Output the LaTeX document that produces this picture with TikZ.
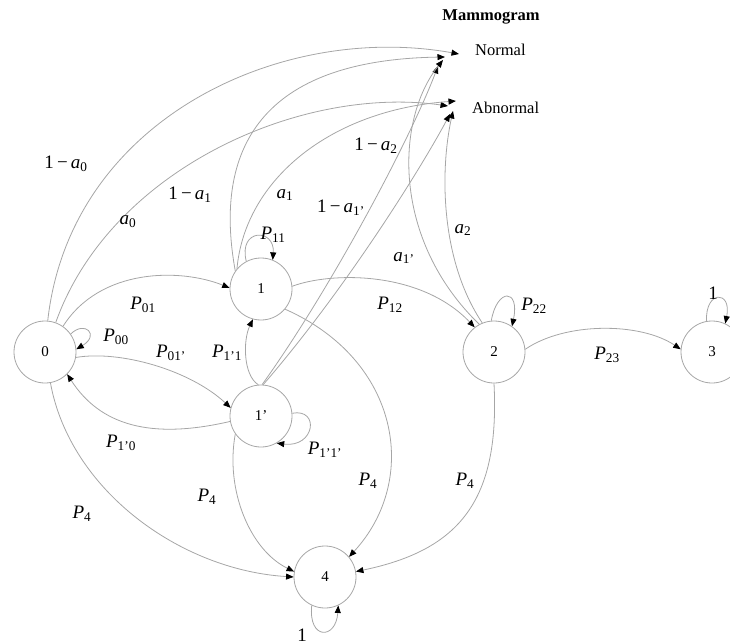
\documentclass[tikz,border=0pt]{standalone}
\usepackage{fontspec}
\setmainfont{Liberation Serif}
\usetikzlibrary{arrows.meta}
\newcommand\PP[1]{\textit{P}\textsubscript{#1}}
\newcommand\Aval[1]{\textit{a}\textsubscript{#1}}
\newcommand\OneMinus[1]{1\,−\,\textit{a}\textsubscript{#1}}
\begin{document}
\begin{tikzpicture}[x=1pt,y=-1pt,
  st/.style={circle,draw=gray!70,line width=0.8pt,minimum size=62pt,inner sep=0pt,font=\fontsize{15}{15}\selectfont},
  conn/.style={draw=gray!70,line width=0.8pt,-{Triangle[length=7.5pt,width=6pt,color=black]}},
  lbl/.style={font=\fontsize{19}{19}\selectfont,inner sep=0pt},
  txt/.style={font=\fontsize{16.5}{17}\selectfont,inner sep=0pt}]
\useasboundingbox (0,0) rectangle (730,644);
% states
\node[st] (n0) at (45,352) {0};
\node[st] (n1) at (261,289) {1};
\node[st] (n1p) at (261,416) {1'};
\node[st] (n2) at (494,352) {2};
\node[st] (n3) at (712,352) {3};
\node[st] (n4) at (325,577) {4};
% mammogram outcomes
\node[txt,font=\bfseries\fontsize{16.5}{17}\selectfont] (mam) at (491,17) {Mammogram};
\node[txt,anchor=west] (nor) at (475,50) {Normal};
\node[txt,anchor=west] (abn) at (472,108) {Abnormal};
\coordinate (N0) at (459,54);
\coordinate (N1) at (445,57);
\coordinate (N2) at (438,66);
\coordinate (N3) at (443,60);
\coordinate (A0) at (448,106);
\coordinate (A1) at (456,101);
\coordinate (A2) at (450,114);
\coordinate (A3) at (453,111);
% to mammogram
\draw[conn] (n0.85) .. controls (70,120) and (280,22) .. (N0);
\draw[conn] (n0.70) .. controls (110,170) and (300,85) .. (A0);
\draw[conn] (n1.145) .. controls (215,160) and (250,60) .. (N1);
\draw[conn] (n1.140) .. controls (245,180) and (330,110) .. (A1);
\draw[conn] (n1p.88) .. controls (330,290) and (410,140) .. (N2);
\draw[conn] (n1p.86) .. controls (345,290) and (420,170) .. (A2);
\draw[conn] (n2.118) .. controls (392,240) and (395,120) .. (N3);
\draw[conn] (n2.112) .. controls (440,260) and (440,170) .. (A3);
% transitions
\draw[conn] (n0.55) .. controls (100,268) and (180,268) .. (n1.178);
\draw[conn] (n0.35) .. controls (85,320) and (100,335) .. (n0.5);
\draw[conn] (n0.-10) .. controls (120,350) and (190,370) .. (n1p.165);
\draw[conn] (n1p.190) .. controls (150,440) and (100,425) .. (n0.-45);
\draw[conn] (n1p.95) .. controls (243,375) and (243,340) .. (n1.255);
\draw[conn] (n1.118) .. controls (238,228) and (275,228) .. (n1.68);
\draw[conn] (n1p.5) .. controls (320,408) and (315,448) .. (n1p.-60);
\draw[conn] (n1.5) .. controls (330,272) and (420,270) .. (n2.128);
\draw[conn] (n2.95) .. controls (497,288) and (520,288) .. (n2.55);
\draw[conn] (n2.5) .. controls (565,322) and (640,322) .. (n3.175);
\draw[conn] (n3.100) .. controls (705,290) and (732,290) .. (n3.65);
\draw[conn] (n0.-80) .. controls (70,490) and (180,570) .. (n4.180);
\draw[conn] (n1p.-145) .. controls (225,490) and (250,550) .. (n4.170);
\draw[conn] (n1.-40) .. controls (400,360) and (420,480) .. (n4.40);
\draw[conn] (n2.-90) .. controls (500,500) and (460,550) .. (n4.10);
\draw[conn] (n4.-115) .. controls (308,640) and (336,640) .. (n4.-65);
% labels
\node[lbl] (l1) at (66,164) {\OneMinus{0}};
\node[lbl] (l2) at (128,222) {\Aval{0}};
\node[lbl] (l3) at (190,195) {\OneMinus{1}};
\node[lbl] (l4) at (285,195) {\Aval{1}};
\node[lbl] (l5) at (341,208) {\OneMinus{1'}};
\node[lbl] (l6) at (376,146) {\OneMinus{2}};
\node[lbl] (l7) at (463,230) {\Aval{2}};
\node[lbl] (l8) at (404,258) {\Aval{1'}};
\node[lbl] (l9) at (273,235) {\PP{11}};
\node[lbl] (l10) at (143,305) {\PP{01}};
\node[lbl] (l11) at (116,337) {\PP{00}};
\node[lbl] (l12) at (171,353) {\PP{01'}};
\node[lbl] (l13) at (227,353) {\PP{1'1}};
\node[lbl] (l14) at (325,450) {\PP{1'1'}};
\node[lbl] (l15) at (390,305) {\PP{12}};
\node[lbl] (l16) at (534,306) {\PP{22}};
\node[lbl] (l17) at (607,355) {\PP{23}};
\node[lbl] (l18) at (713,293) {1};
\node[lbl] (l19) at (121,443) {\PP{1'0}};
\node[lbl] (l20) at (207,497) {\PP{4}};
\node[lbl] (l21) at (82,514) {\PP{4}};
\node[lbl] (l22) at (368,481) {\PP{4}};
\node[lbl] (l23) at (465,481) {\PP{4}};
\node[lbl] (l24) at (302,635) {1};
\end{tikzpicture}
\end{document}
